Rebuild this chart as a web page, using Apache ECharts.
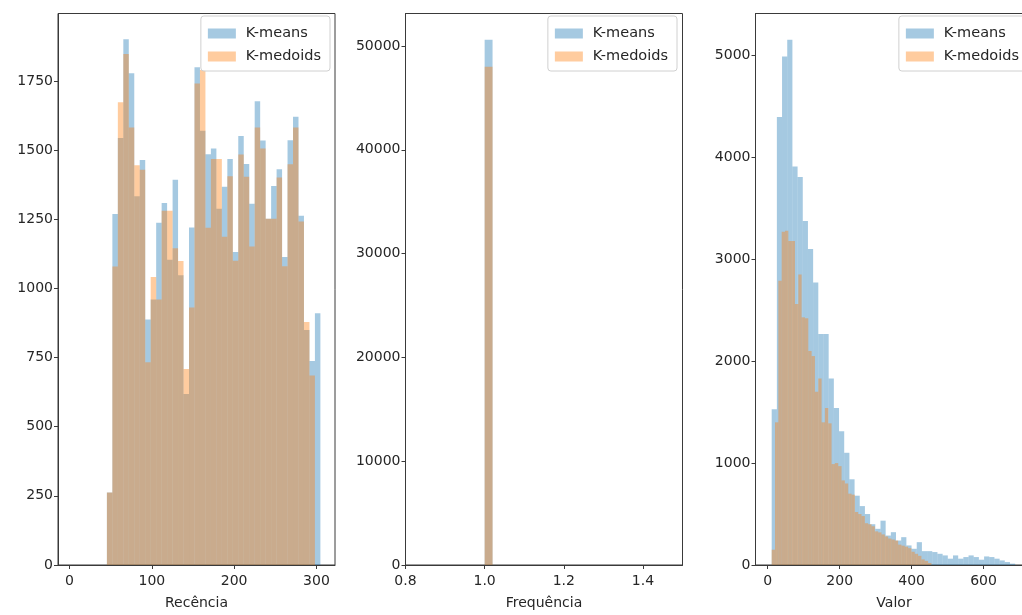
<!DOCTYPE html>
<html>
<head>
<meta charset="utf-8">
<script src="https://cdn.jsdelivr.net/npm/echarts@6/dist/echarts.min.js"></script>
<style>
  html, body { margin: 0; padding: 0; background: #fff; overflow: hidden; }
  #chart { width: 1045px; height: 615px; }
</style>
</head>
<body>
<div id="chart"></div>
<script>
// ---- Recência histogram (shared bins) ----
const recBinStart = 45.4;
const recBinWidth = 6.65;
const recKmeans = [262, 1269, 1544, 1901, 1778, 1333, 1464, 888, 960, 1237,
  1309, 1104, 1393, 1048, 618, 1220, 1800, 1570, 1485, 1506,
  1288, 1368, 1468, 1132, 1551, 1450, 1306, 1677, 1535, 1252,
  1370, 1431, 1114, 1536, 1621, 1263, 850, 738, 910];
const recKmedoids = [262, 1079, 1673, 1848, 1582, 1445, 1429, 733, 1041, 960,
  1281, 1281, 1145, 1099, 709, 931, 1741, 1790, 1219, 1468,
  1468, 1187, 1406, 1100, 1484, 1404, 1152, 1582, 1506, 1252,
  1252, 1401, 1080, 1449, 1582, 1242, 879, 685, 0];

// ---- Frequência histogram ----
const freqBinStart = 1.0;
const freqBinWidth = 0.02;
const freqKmeans = [50600];
const freqKmedoids = [48000];

// ---- Valor histogram ----
const valKmeansStart = 11;
const valKmeansWidth = 14.4;
const valKmeans = [1529, 4396, 4990, 5153, 3910, 3807, 3375, 3100, 2771, 2267,
  2267, 1830, 1540, 1312, 1101, 841, 680, 578, 500, 400,
  355, 435, 289, 322, 240, 273, 192, 159, 224, 136,
  136, 127, 110, 94, 62, 94, 62, 78, 94, 78,
  52, 84, 78, 62, 45, 29, 13];
const valKmedoidsStart = 11;
const valKmedoidsWidth = 9.25;
const valKmedoids = [150, 1400, 2790, 3270, 3280, 3180, 3180, 2560, 2850, 2430,
  2420, 2100, 2050, 1700, 1830, 1400, 1540, 1390, 990, 1000,
  970, 830, 800, 700, 690, 520, 500, 480, 410, 400,
  380, 330, 320, 300, 280, 260, 250, 240, 200, 190,
  180, 165, 130, 110, 90, 55, 40, 20];

// ---- axis ticks ----
const recXTicks = [0, 100, 200, 300];
const recYTicks = [0, 250, 500, 750, 1000, 1250, 1500, 1750];
const freqXTicks = [0.8, 1.0, 1.2, 1.4];
const freqYTicks = [0, 10000, 20000, 30000, 40000, 50000];
const valXTicks = [0, 200, 400, 600];
const valYTicks = [0, 1000, 2000, 3000, 4000, 5000];

const seriesNames = ['K-means', 'K-medoids'];
const axisTitles = ['Recência', 'Frequência', 'Valor'];

const BLUE = 'rgba(31,119,180,0.4)';
const ORANGE = 'rgba(255,127,14,0.4)';
const FONT = 'DejaVu Sans';
const FONT_SIZE = 14;
const TEXT = '#262626';
const LINE = '#3a3a3a';
const CANVAS_W = 1045;

function histData(start, width, counts) {
  return counts.map((c, i) => [start + i * width, start + (i + 1) * width, c]);
}

function renderBin(params, api) {
  const p0 = api.coord([api.value(0), 0]);
  const p1 = api.coord([api.value(1), api.value(2)]);
  return {
    type: 'rect',
    shape: { x: p0[0], y: p1[1], width: p1[0] - p0[0], height: p0[1] - p1[1] },
    style: api.style()
  };
}

function histSeries(name, color, idx, data) {
  return {
    type: 'custom', name: name, xAxisIndex: idx, yAxisIndex: idx,
    renderItem: renderBin, data: data,
    encode: { x: [0, 1], y: 2 },
    itemStyle: { color: color },
    silent: true
  };
}

const plain = v => String(v);
const panels = [
  { left: 58, xMin: -14, xMax: 322.5, yMax: 1994, xTicks: recXTicks, yTicks: recYTicks, fmt: plain },
  { left: 405.5, xMin: 0.8, xMax: 1.5, yMax: 53130, xTicks: freqXTicks, yTicks: freqYTicks, fmt: v => v.toFixed(1) },
  { left: 755.5, xMin: -34, xMax: 736, yMax: 5411, xTicks: valXTicks, yTicks: valYTicks, fmt: plain }
];
const gridWidth = 277;
const gridTop = 13.5;
const gridHeight = 554.5;

const grids = panels.map(p => ({
  left: p.left, top: gridTop, width: gridWidth, height: gridHeight,
  show: true, borderColor: LINE, borderWidth: 1, backgroundColor: 'transparent'
}));

const xAxes = panels.map((p, i) => ({
  type: 'value', gridIndex: i, min: p.xMin, max: p.xMax,
  name: axisTitles[i], nameLocation: 'middle', nameGap: 31,
  nameTextStyle: { fontFamily: FONT, fontSize: FONT_SIZE, color: TEXT },
  axisLine: { show: true, onZero: false, lineStyle: { color: LINE, width: 1 } },
  axisTick: { show: true, inside: false, length: 4, customValues: p.xTicks, lineStyle: { color: LINE } },
  axisLabel: { customValues: p.xTicks, formatter: p.fmt, fontFamily: FONT, fontSize: FONT_SIZE, color: TEXT, margin: 9 },
  splitLine: { show: false }
}));

const yAxes = panels.map((p, i) => ({
  type: 'value', gridIndex: i, min: 0, max: p.yMax,
  axisLine: { show: true, onZero: false, lineStyle: { color: LINE, width: 1 } },
  axisTick: { show: true, inside: false, length: 4, customValues: p.yTicks, lineStyle: { color: LINE } },
  axisLabel: { customValues: p.yTicks, formatter: plain, fontFamily: FONT, fontSize: FONT_SIZE, color: TEXT, margin: 5 },
  splitLine: { show: false }
}));

const legendRightEdges = [330, 677, 1028];
const legends = legendRightEdges.map(edge => ({
  data: seriesNames,
  right: CANVAS_W - edge, top: 16,
  orient: 'vertical', icon: 'rect',
  itemWidth: 28, itemHeight: 10, itemGap: 8,
  padding: [10, 9, 7, 7],
  backgroundColor: 'rgba(255,255,255,0.8)',
  borderColor: '#d0d0d0', borderWidth: 1, borderRadius: 3,
  selectedMode: false,
  textStyle: { fontFamily: FONT, fontSize: 14.5, color: TEXT, padding: [0, 0, 0, 5] }
}));

const series = [
  histSeries('K-means', BLUE, 0, histData(recBinStart, recBinWidth, recKmeans)),
  histSeries('K-medoids', ORANGE, 0, histData(recBinStart, recBinWidth, recKmedoids)),
  histSeries('K-means', BLUE, 1, histData(freqBinStart, freqBinWidth, freqKmeans)),
  histSeries('K-medoids', ORANGE, 1, histData(freqBinStart, freqBinWidth, freqKmedoids)),
  histSeries('K-means', BLUE, 2, histData(valKmeansStart, valKmeansWidth, valKmeans)),
  histSeries('K-medoids', ORANGE, 2, histData(valKmedoidsStart, valKmedoidsWidth, valKmedoids))
];

const chart = echarts.init(document.getElementById('chart'), null, { renderer: 'canvas' });
chart.setOption({
  animation: false,
  backgroundColor: '#ffffff',
  grid: grids,
  xAxis: xAxes,
  yAxis: yAxes,
  legend: legends,
  series: series
});
</script>
</body>
</html>
